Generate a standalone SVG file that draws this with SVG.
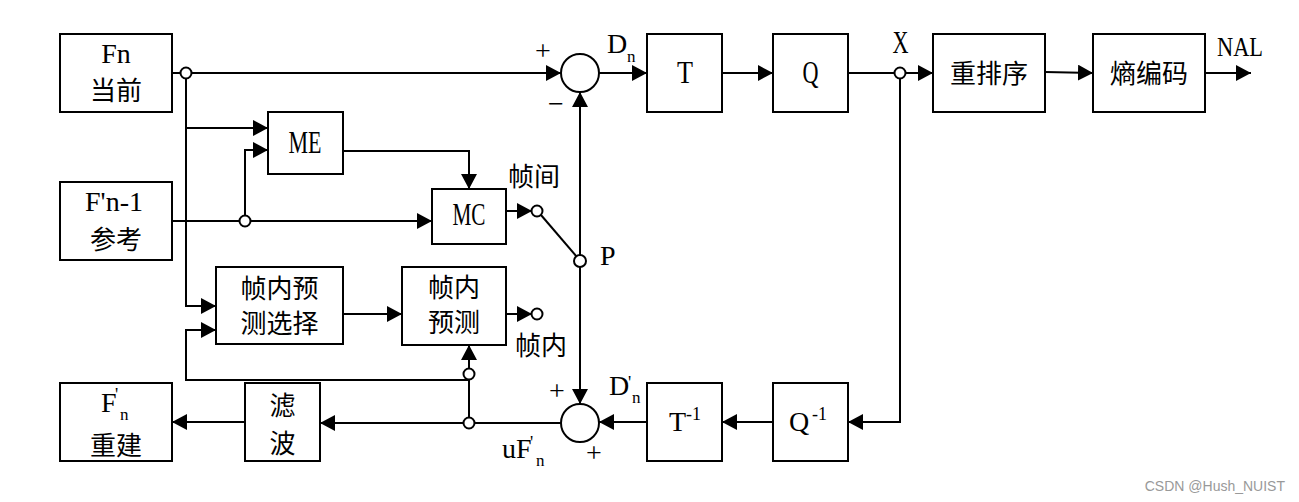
<svg xmlns="http://www.w3.org/2000/svg" width="1299" height="502" viewBox="0 0 1299 502">
<defs>
<marker id="ah" markerUnits="userSpaceOnUse" markerWidth="16" markerHeight="16" refX="15" refY="8" orient="auto"><path d="M0,0 L15,8 L0,16 Z" fill="#000"/></marker>
<style>
.box{fill:#fff;stroke:#000;stroke-width:2}
.ln{fill:none;stroke:#000;stroke-width:2}
.arr{marker-end:url(#ah)}
.jn{fill:#fff;stroke:#000;stroke-width:2}
.cj{font-family:"Noto Sans CJK SC",sans-serif;font-size:26px;text-anchor:middle;fill:#000}
.cl{font-family:"Noto Sans CJK SC",sans-serif;font-size:26px;fill:#000}
.lt{font-family:"Liberation Serif",serif;font-size:28px;text-anchor:middle;fill:#000}
.ls{font-family:"Liberation Serif",serif;font-size:28px;fill:#000}
.nc{font-family:"Liberation Serif",serif;font-size:32px;text-anchor:middle;fill:#000}
.sb{font-size:17px}
.sp{font-size:18px}
.pm{font-family:"Liberation Serif",serif;font-size:28px;text-anchor:middle;fill:#000}
.wm{font-family:"Liberation Sans",sans-serif;font-size:14px;text-anchor:end;fill:#999}
</style>
</defs>
<rect width="1299" height="502" fill="#fff"/>
<g id="connectors">
<path class="ln arr" d="M172,73 H561"/>
<path class="ln arr" d="M186,73 V306 H216"/>
<path class="ln arr" d="M186,128 H268"/>
<path class="ln arr" d="M172,221 H432"/>
<path class="ln arr" d="M245,221 V150 H268"/>
<path class="ln arr" d="M343,151 H469 V189"/>
<path class="ln arr" d="M506,211 H532"/>
<path class="ln" d="M541,215 L577,257"/>
<path class="ln arr" d="M580,255 V92"/>
<path class="ln arr" d="M580,267 V404"/>
<path class="ln arr" d="M506,314 H532"/>
<path class="ln arr" d="M343,314 H402"/>
<path class="ln arr" d="M561,423 H320"/>
<path class="ln" d="M469,423 V379"/>
<path class="ln arr" d="M469,369 V345"/>
<path class="ln arr" d="M469,380 H186 V330 H216"/>
<path class="ln arr" d="M245,422 H172"/>
<path class="ln arr" d="M647,422 H599"/>
<path class="ln arr" d="M773,422 H722"/>
<path class="ln arr" d="M900,79 V422 H848"/>
<path class="ln arr" d="M599,73 H647"/>
<path class="ln arr" d="M722,73 H773"/>
<path class="ln arr" d="M848,73 H933"/>
<path class="ln arr" d="M1045,72 L1093,73"/>
<path class="ln arr" d="M1205,73 H1251"/>
<circle class="jn" cx="186" cy="73" r="5.5"/>
<circle class="jn" cx="245" cy="221" r="5.5"/>
<circle class="jn" cx="537" cy="211" r="5.5"/>
<circle class="jn" cx="580" cy="261" r="6"/>
<circle class="jn" cx="537" cy="314" r="5.5"/>
<circle class="jn" cx="469" cy="374" r="5.5"/>
<circle class="jn" cx="469" cy="423" r="5.5"/>
<circle class="jn" cx="900" cy="73" r="5.5"/>
</g>
<g id="sum1">
<circle class="jn" cx="580" cy="73" r="19"/>
<text class="pm" x="543" y="60">+</text>
<text class="pm" x="556" y="113">−</text>
</g>
<g id="sum2">
<circle class="jn" cx="580" cy="423" r="19"/>
<text class="pm" x="557" y="400">+</text>
<text class="pm" x="594" y="462">+</text>
</g>
<g id="fn">
<rect class="box" x="60" y="34" width="112" height="78"/>
<text class="lt" x="116" y="63">Fn</text>
<text class="cj" x="116" y="100">当前</text>
</g>
<g id="fn1">
<rect class="box" x="60" y="182" width="112" height="78"/>
<text class="lt" x="114" y="211">F'n-1</text>
<text class="cj" x="116" y="249">参考</text>
</g>
<g id="fnr">
<rect class="box" x="60" y="383" width="112" height="78"/>
<text class="ls" x="101" y="412">F</text>
<text class="ls sp" x="115" y="401">'</text>
<text class="ls sb" x="120" y="420">n</text>
<text class="cj" x="116" y="455">重建</text>
</g>
<g id="me">
<rect class="box" x="268" y="112" width="75" height="62"/>
<text class="nc" x="305" y="153" textLength="33" lengthAdjust="spacingAndGlyphs">ME</text>
</g>
<g id="mc">
<rect class="box" x="432" y="189" width="74" height="55"/>
<text class="nc" x="469" y="225" textLength="33" lengthAdjust="spacingAndGlyphs">MC</text>
</g>
<g id="ips">
<rect class="box" x="216" y="267" width="127" height="77"/>
<text class="cj" x="279.5" y="298">帧内预</text>
<text class="cj" x="279.5" y="333">测选择</text>
</g>
<g id="ip">
<rect class="box" x="402" y="267" width="104" height="78"/>
<text class="cj" x="454" y="297">帧内</text>
<text class="cj" x="454" y="332">预测</text>
</g>
<g id="filter">
<rect class="box" x="245" y="383" width="75" height="78"/>
<text class="cj" x="282.5" y="415">滤</text>
<text class="cj" x="282.5" y="453">波</text>
</g>
<g id="t">
<rect class="box" x="647" y="34" width="75" height="78"/>
<text class="nc" x="685" y="83" textLength="16" lengthAdjust="spacingAndGlyphs">T</text>
</g>
<g id="q">
<rect class="box" x="773" y="34" width="75" height="78"/>
<text class="nc" x="810.5" y="83" textLength="16" lengthAdjust="spacingAndGlyphs">Q</text>
</g>
<g id="reorder">
<rect class="box" x="933" y="34" width="112" height="78"/>
<text class="cj" x="989" y="83">重排序</text>
</g>
<g id="entropy">
<rect class="box" x="1093" y="34" width="112" height="78"/>
<text class="cj" x="1149" y="83">熵编码</text>
</g>
<g id="tinv">
<rect class="box" x="647" y="383" width="75" height="78"/>
<text class="ls" x="669" y="431" font-size="29">T</text>
<text class="ls sp" x="686" y="420">-1</text>
</g>
<g id="qinv">
<rect class="box" x="773" y="383" width="75" height="78"/>
<text class="ls" x="789" y="431" font-size="29">Q</text>
<text class="ls sp" x="812" y="420">-1</text>
</g>
<g id="labels">
<text class="ls" x="607" y="53">D</text>
<text class="ls sb" x="627" y="62">n</text>
<text class="nc" x="900.5" y="53" textLength="16" lengthAdjust="spacingAndGlyphs">X</text>
<text class="ls" x="1217" y="56" font-size="32" textLength="46" lengthAdjust="spacingAndGlyphs">NAL</text>
<text class="cl" x="508" y="186">帧间</text>
<text class="ls" x="600" y="265" font-size="30">P</text>
<text class="cl" x="515" y="355">帧内</text>
<text class="ls" x="609" y="395">D</text>
<text class="ls sp" x="628" y="389">'</text>
<text class="ls sb" x="632" y="403">n</text>
<text class="ls" x="502" y="458">uF</text>
<text class="ls sp" x="530" y="449">'</text>
<text class="ls sb" x="536" y="466">n</text>
<text class="wm" x="1285" y="491">CSDN @Hush_NUIST</text>
</g>
</svg>
